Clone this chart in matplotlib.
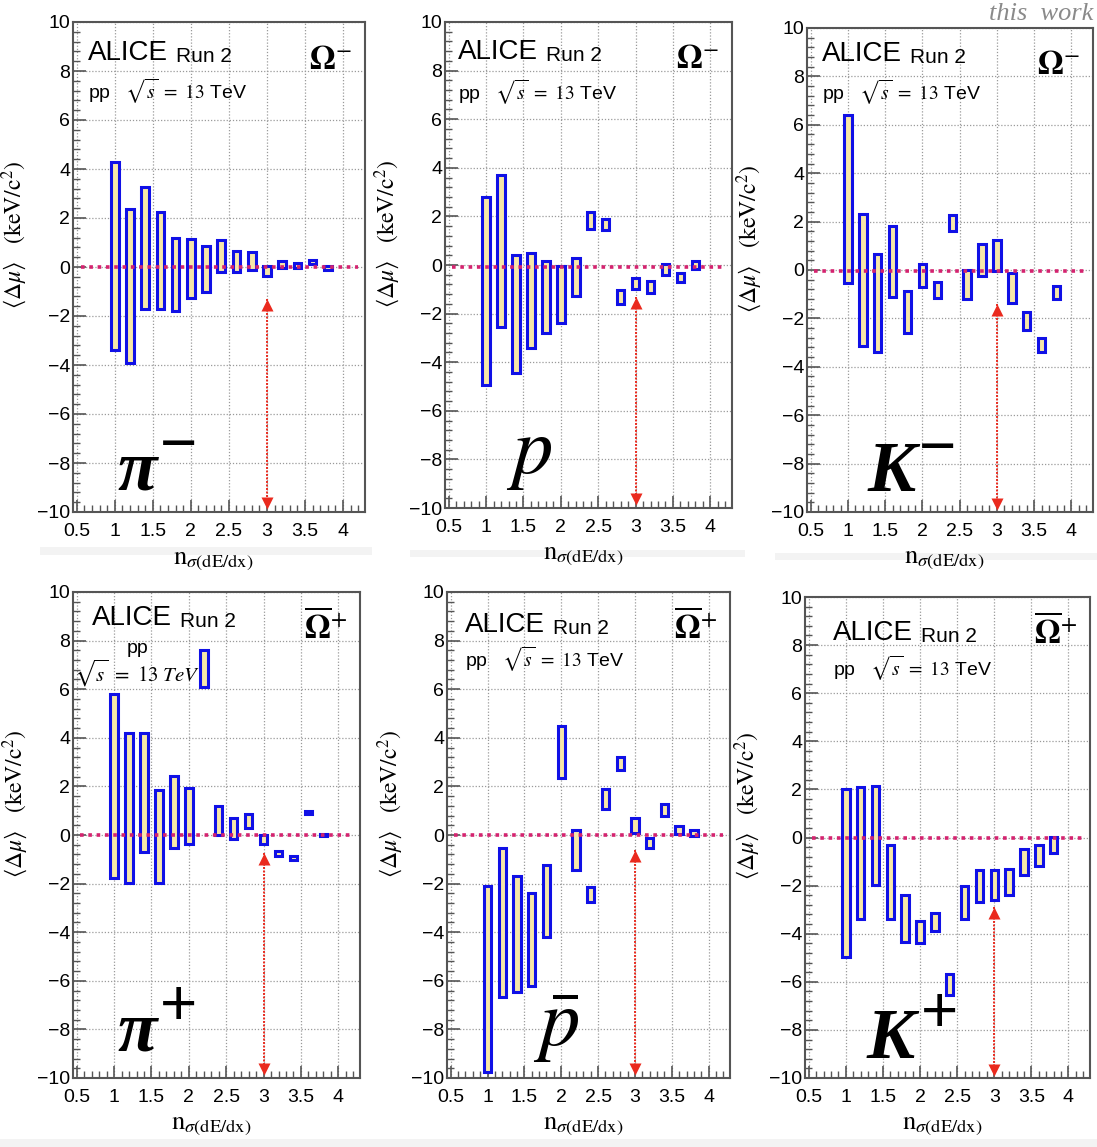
import matplotlib.pyplot as plt
from matplotlib.patches import Rectangle
from matplotlib.ticker import MultipleLocator

plt.rcParams['font.family'] = ['Liberation Sans', 'DejaVu Sans']
plt.rcParams['mathtext.fontset'] = 'stix'

W, H = 1097, 1147

# n_sigma(dE/dx) cut values, same for every panel
nsigma = [1.0, 1.2, 1.4, 1.6, 1.8, 2.0, 2.2, 2.4, 2.6, 2.8, 3.0, 3.2, 3.4, 3.6, 3.8]

# <Delta mu> bands (keV/c^2): lower and upper edge of each box
pim_low = [-3.4, -3.9, -1.7, -1.7, -1.8, -1.25, -1.0, -0.2, -0.2, -0.13, -0.38, -0.03, -0.03, 0.12, -0.13]
pim_high = [4.3, 2.35, 3.25, 2.25, 1.2, 1.15, 0.85, 1.1, 0.65, 0.6, 0.04, 0.23, 0.16, 0.29, 0.04]

p_low = [-4.95, -2.55, -4.45, -3.4, -2.8, -2.38, -1.28, 1.5, 1.46, -1.6, -1.0, -1.14, -0.4, -0.7, -0.15]
p_high = [2.8, 3.7, 0.42, 0.5, 0.15, -0.04, 0.28, 2.2, 1.88, -1.04, -0.53, -0.66, 0.03, -0.34, 0.18]

km_low = [-0.55, -3.15, -3.4, -1.1, -2.6, -0.7, -1.15, 1.6, -1.2, -0.23, -0.06, -1.38, -2.48, -3.38, -1.18]
km_high = [6.4, 2.3, 0.65, 1.82, -0.87, 0.23, -0.5, 2.28, 0.01, 1.08, 1.22, -0.13, -1.72, -2.82, -0.65]

pip_low = [-1.78, -1.98, -0.68, -1.96, -0.54, -0.39, 6.1, 0.0, -0.15, 0.3, -0.39, -0.88, -1.03, 0.86, -0.05]
pip_high = [5.8, 4.18, 4.18, 1.87, 2.42, 1.92, 7.6, 1.21, 0.68, 0.86, 0.0, -0.65, -0.85, 0.97, 0.03]

pbar_low = [-9.77, -6.66, -6.48, -6.2, -4.19, 2.34, -1.43, -2.76, 1.05, 2.67, 0.09, -0.52, 0.8, 0.06, -0.06]
pbar_high = [-2.08, -0.55, -1.68, -2.37, -1.24, 4.49, 0.2, -2.14, 1.88, 3.2, 0.7, -0.14, 1.27, 0.39, 0.21]

kp_low = [-4.97, -3.37, -1.96, -3.37, -4.36, -4.39, -3.88, -6.53, -3.37, -2.69, -2.58, -2.38, -1.55, -1.17, -0.66]
kp_high = [2.03, 2.11, 2.16, -0.33, -2.41, -3.48, -3.12, -5.66, -2.03, -1.36, -1.35, -1.32, -0.48, -0.3, 0.01]

# constant-fit level and top of the marker arrow at n_sigma = 3
fit_level = [0.0, -0.1, -0.05, 0.0, 0.0, 0.0]
arrow_top = [-1.3, -1.3, -1.4, -0.75, -0.6, -2.9]
arrow_x = 3.0
arrow_bottom = -9.75

omega_labels = [r'$\mathbf{\Omega}^{-}$'] * 3 + [r'$\overline{\mathbf{\Omega}}^{+}$'] * 3

panels = [
    # (low, high, particle, superscript, frame px: left, top, right, bottom, label pos, superscript pos)
    (pim_low, pim_high, 'π', '−', (73, 22, 365, 512), (1.04, -9.1), (1.84, -7.35)),
    (p_low, p_high, r'$p$', None, (445, 22, 732, 508), (1.27, -8.55), None),
    (km_low, km_high, 'K', '−', (807, 28, 1093, 512), (1.26, -9.15), (2.2, -7.45)),
    (pip_low, pip_high, 'π', '+', (73, 592, 360, 1078), (1.05, -8.85), (1.86, -7.1)),
    (pbar_low, pbar_high, r'$\bar{p}$', None, (447, 592, 730, 1078), (1.62, -8.7), None),
    (kp_low, kp_high, 'K', '+', (805, 597, 1090, 1078), (1.28, -9.15), (2.26, -7.4)),
]

# header placement in axes fractions
alice_x = [0.05, 0.045, 0.052, 0.066, 0.064, 0.098]
alice_y = [0.922, 0.924, 0.932, 0.932, 0.918, 0.91]
pp_y = [0.842, 0.84, 0.852, 0.0, 0.846, 0.835]

box_w = 0.1
frame_col = '#555555'

fig = plt.figure(figsize=(W / 100, H / 100), dpi=100)

# light strips under the axis titles
for (x0, y0, x1, y1) in [(40, 547, 372, 555), (410, 550, 745, 557), (775, 553, 1097, 560), (0, 1139, 1097, 1147)]:
    fig.add_artist(Rectangle((x0 / W, 1 - y1 / H), (x1 - x0) / W, (y1 - y0) / H,
                             transform=fig.transFigure, fc='#f3f3f3', ec='none', zorder=0))

for i, (low, high, part, sup, (l, t, r, b), (lx, ly), spos) in enumerate(panels):
    ax = fig.add_axes([l / W, 1 - b / H, (r - l) / W, (b - t) / H])
    ax.set_xlim(0.45, 4.29)
    ax.set_ylim(-10, 10)

    ax.xaxis.set_major_locator(MultipleLocator(0.5))
    ax.xaxis.set_minor_locator(MultipleLocator(0.1))
    ax.yaxis.set_major_locator(MultipleLocator(2))
    ax.yaxis.set_minor_locator(MultipleLocator(0.4))
    ax.xaxis.set_major_formatter(plt.FuncFormatter(lambda v, _: f'{v:g}'))
    ax.yaxis.set_major_formatter(plt.FuncFormatter(lambda v, _: f'{v:g}'.replace('-', '\u2212')))
    ax.tick_params(which='both', direction='in', colors=frame_col, labelcolor='black', labelsize=14)
    ax.tick_params(which='major', length=9, width=1.2)
    ax.tick_params(which='minor', length=5, width=1.0)
    ax.tick_params(axis='x', pad=8)
    ax.tick_params(axis='y', pad=2)
    for s in ax.spines.values():
        s.set_color(frame_col)
        s.set_linewidth(1.5)
    ax.grid(True, which='major', ls=(0, (1, 1.5)), color='#9a9a9a', lw=0.9)
    ax.set_axisbelow(True)

    # systematic bands
    for x, lo, hi in zip(nsigma, low, high):
        ax.add_patch(Rectangle((x - box_w / 2, lo), box_w, hi - lo,
                               fc='#f7e7a9', ec='#1010e6', lw=2.2, zorder=3))

    # fit level
    ax.plot([0.55, 4.2], [fit_level[i]] * 2, ls=(0, (1, 1.3)), color='#d4236f', lw=2.6, zorder=4)

    # double-headed arrow at the chosen cut
    ax.plot([arrow_x, arrow_x], [arrow_top[i], arrow_bottom], ls=(0, (1, 0.8)), color='#ea2a1e', lw=1.4, zorder=4)
    ax.plot([arrow_x], [arrow_top[i] - 0.25], marker='^', ms=9, color='#ea2a1e', mec='none', zorder=5)
    ax.plot([arrow_x], [arrow_bottom + 0.1], marker='v', ms=9, color='#ea2a1e', mec='none', zorder=5)

    # header texts
    alice = ax.text(alice_x[i], alice_y[i], 'ALICE', transform=ax.transAxes,
                    fontsize=20, ha='left', va='baseline')
    ax.annotate('Run 2', xy=(1, 0), xycoords=alice, xytext=(6, 0), textcoords='offset points',
                fontsize=15, ha='left', va='bottom')
    if i == 3:
        ax.text(1.17, 7.5, 'pp', fontsize=14, ha='left', va='baseline')
        ax.text(0.47, 6.3, r'$\sqrt{s}\ =\ 13\ TeV$', fontsize=15, ha='left', va='baseline')
    else:
        ax.text(alice_x[i], pp_y[i], r'pp   $\sqrt{s}\ =\ 13$ TeV', transform=ax.transAxes,
                fontsize=14, ha='left', va='baseline')
    ax.text(0.955, 0.905, omega_labels[i], transform=ax.transAxes, fontsize=24, ha='right', va='baseline')

    # particle label
    if sup is None:
        ax.text(lx, ly, part, fontsize=58, ha='left', va='baseline')
    else:
        ax.text(lx, ly, part, fontsize=52, family='Liberation Serif', style='italic',
                weight='bold', ha='left', va='baseline')
        ax.text(spos[0], spos[1], sup, fontsize=46, ha='center', va='center')

    ax.set_xlabel(r'$\mathrm{n}_{\sigma(\mathrm{dE/dx})}$', fontsize=19)
    ax.xaxis.set_label_coords(0.48, -0.075)
    ax.set_ylabel(r'$\langle\Delta\mu\rangle\ \ \ (\mathrm{keV/c^{2}})$', fontsize=17)
    ax.yaxis.set_label_coords(-0.15, 0.565)

fig.text(1093 / W, 1 - 20 / H, 'this  work', fontsize=19, family='Liberation Serif', style='italic',
         color='#8a8a8a', ha='right', va='baseline')

fig.savefig('out.png', dpi=100)
